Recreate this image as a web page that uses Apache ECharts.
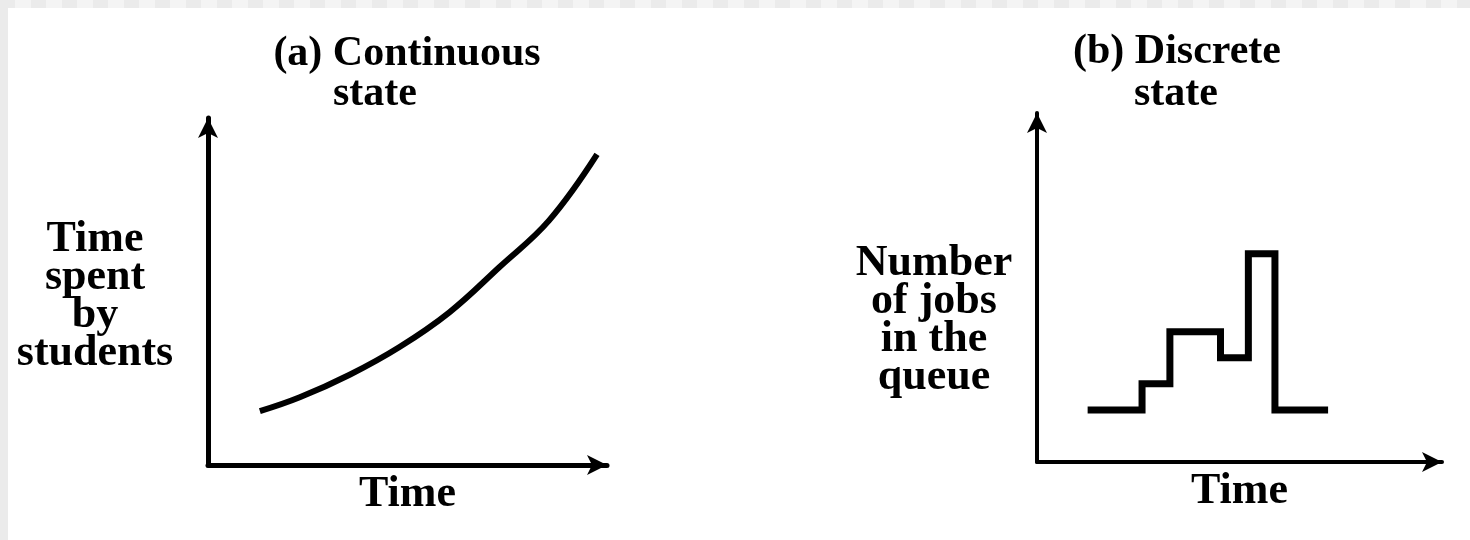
<!DOCTYPE html>
<html>
<head>
<meta charset="utf-8">
<script src="https://cdn.jsdelivr.net/npm/echarts@6/dist/echarts.min.js"></script>
<style>
  html, body { margin: 0; padding: 0; background: #fff; }
  #chart {
    width: 1470px; height: 540px;
    background:
      repeating-linear-gradient(90deg, #ebebeb 0 15px, #f4f4f4 15px 31px) top / 100% 8px no-repeat,
      linear-gradient(#ebebeb, #ebebeb) left / 8px 100% no-repeat,
      #fff;
  }
</style>
</head>
<body>
<div id="chart"></div>
<script>
// (a) continuous state: time spent by students
const curveX = [1.3, 2.3, 3.55, 4.8, 6.05, 7.3, 8.55, 9.75];
const curveY = [1.55, 1.95, 2.6, 3.4, 4.4, 5.7, 7.05, 8.95];

// (b) discrete state: number of jobs in the queue
const stepX = [2, 4.15, 5.25, 7.25, 8.35, 9.4, 11.5];
const stepY = [2, 3, 5, 4, 8, 2, 2];

const titleA = ['(a) Continuous', 'state'];
const titleB = ['(b) Discrete', 'state'];
const yNameA = ['Time', 'spent', 'by', 'students'];
const yNameB = ['Number', 'of jobs', 'in the', 'queue'];
const xName = 'Time';

const FONT = '"Liberation Serif", "DejaVu Serif", serif';

function zip(xs, ys) {
  return xs.map((x, i) => [x, ys[i]]);
}

function axisLine(width) {
  return {
    show: true,
    onZero: false,
    symbol: ['none', 'arrow'],
    symbolSize: [15, 20],
    lineStyle: { color: '#000', width: width }
  };
}

const nameStyle = {
  fontFamily: FONT, fontWeight: 'bold', fontSize: 44, color: '#000'
};

function label(x, y, text, size) {
  return {
    type: 'text', x: x, y: y,
    style: {
      text: text, fill: '#000',
      font: 'bold ' + size + 'px ' + FONT,
      lineHeight: 38,
      textAlign: 'center', textVerticalAlign: 'middle'
    }
  };
}

let chart = echarts.init(document.getElementById('chart'), null, { renderer: 'canvas' });

let option = {
  animation: false,
  grid: [
    { left: 208, top: 118, width: 399, height: 347 },
    { left: 1037, top: 113, width: 405, height: 349 }
  ],
  xAxis: [
    {
      gridIndex: 0, type: 'value', min: 0, max: 10,
      axisLine: axisLine(5), axisTick: { show: false },
      axisLabel: { show: false }, splitLine: { show: false },
      name: xName, nameLocation: 'middle', nameGap: 8, nameTextStyle: nameStyle
    },
    {
      gridIndex: 1, type: 'value', min: 0, max: 16,
      axisLine: axisLine(4), axisTick: { show: false },
      axisLabel: { show: false }, splitLine: { show: false },
      name: xName, nameLocation: 'middle', nameGap: 8, nameTextStyle: nameStyle
    }
  ],
  yAxis: [
    {
      gridIndex: 0, type: 'value', min: 0, max: 10,
      axisLine: axisLine(5), axisTick: { show: false },
      axisLabel: { show: false }, splitLine: { show: false }
    },
    {
      gridIndex: 1, type: 'value', min: 0, max: 13.4,
      axisLine: axisLine(4), axisTick: { show: false },
      axisLabel: { show: false }, splitLine: { show: false }
    }
  ],
  series: [
    {
      type: 'line', xAxisIndex: 0, yAxisIndex: 0,
      data: zip(curveX, curveY),
      smooth: 0.4, showSymbol: false, symbol: 'none',
      lineStyle: { color: '#000', width: 6 }
    },
    {
      type: 'line', xAxisIndex: 1, yAxisIndex: 1,
      data: zip(stepX, stepY),
      step: 'end', showSymbol: false, symbol: 'none',
      lineStyle: { color: '#000', width: 7, join: 'miter' }
    }
  ],
  graphic: [
    label(407, 54, titleA[0], 42),
    label(375, 94, titleA[1], 42),
    label(1177, 52, titleB[0], 42),
    label(1176, 94, titleB[1], 42),
    label(95, 297, yNameA.join('\n'), 44),
    label(934, 321, yNameB.join('\n'), 44)
  ]
};

chart.setOption(option);
</script>
</body>
</html>
